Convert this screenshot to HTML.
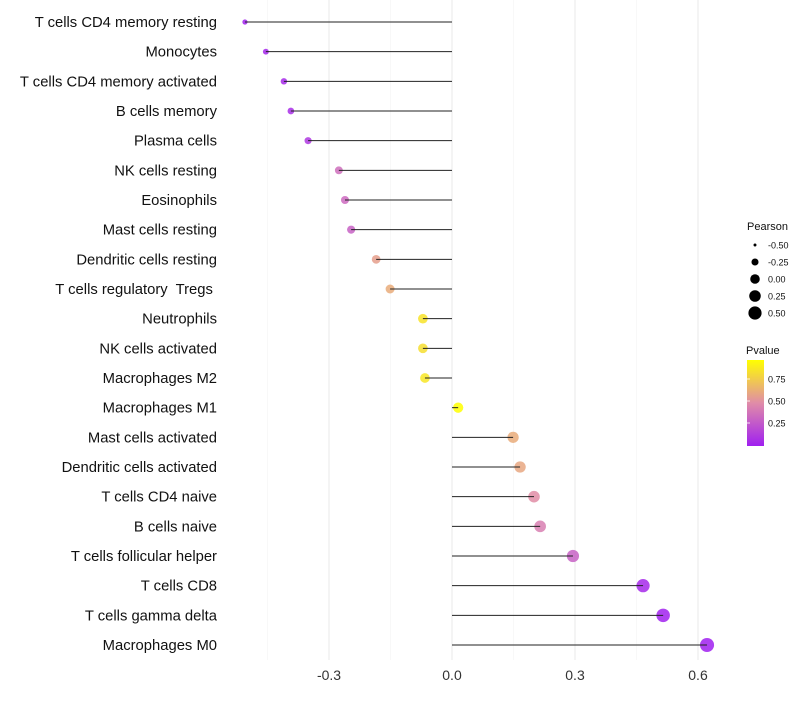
<!DOCTYPE html>
<html><head><meta charset="utf-8"><style>
body{margin:0;background:#fff;font-family:"Liberation Sans",sans-serif;}
</style></head><body>
<svg id="c" width="800" height="700" xmlns="http://www.w3.org/2000/svg">
<defs><linearGradient id="pg" x1="0" y1="1" x2="0" y2="0">
<stop offset="0" stop-color="#A020F0"/><stop offset="0.5" stop-color="#E08CA8"/><stop offset="1" stop-color="#FFFF00"/></linearGradient></defs>
</svg>
<script>
const categories=["T cells CD4 memory resting","Monocytes","T cells CD4 memory activated","B cells memory","Plasma cells","NK cells resting","Eosinophils","Mast cells resting","Dendritic cells resting","T cells regulatory  Tregs ","Neutrophils","NK cells activated","Macrophages M2","Macrophages M1","Mast cells activated","Dendritic cells activated","T cells CD4 naive","B cells naive","T cells follicular helper","T cells CD8","T cells gamma delta","Macrophages M0"];
const pearson=[-0.505,-0.454,-0.41,-0.393,-0.351,-0.276,-0.261,-0.246,-0.185,-0.151,-0.071,-0.071,-0.066,0.015,0.149,0.166,0.2,0.215,0.295,0.466,0.515,0.622];
const pvalue=[0.03,0.05,0.06,0.08,0.12,0.35,0.33,0.3,0.55,0.6,0.82,0.8,0.83,0.95,0.6,0.58,0.48,0.42,0.3,0.06,0.03,0.02];
const xTicks=[-0.3,0,0.3,0.6];
const xMinor=[-0.45,-0.15,0.15,0.45];
const ns="http://www.w3.org/2000/svg";
const svg=document.getElementById('c');
const X=v=>452+v*410;
const Y=i=>22+i*(623/21);
const R=v=>Math.sqrt(Math.max(3.5,26+38*v));
function mk(t,a){const e=document.createElementNS(ns,t);for(const k in a)e.setAttribute(k,a[k]);svg.appendChild(e);return e;}
function lerp(a,b,t){return a.map((x,i)=>Math.round(x+(b[i]-x)*t));}
function col(p){const t=Math.min(1,Math.max(0,(p-0.02)/0.91));const c0=[160,32,240],c1=[224,140,168],c2=[255,255,0];const c=t<0.5?lerp(c0,c1,t*2):lerp(c1,c2,(t-0.5)*2);return `rgb(${c})`;}
xMinor.forEach(v=>{const l=mk('line',{x1:X(v),x2:X(v),y1:0,y2:660,stroke:'#f4f4f4','stroke-width':0.6});

});
xTicks.forEach(v=>{const l=mk('line',{x1:X(v),x2:X(v),y1:0,y2:660,stroke:'#ececec','stroke-width':1.1});


const t=mk('text',{x:X(v),y:680,'text-anchor':'middle','font-size':14,fill:'#333'});t.textContent=v===0?'0.0':v.toFixed(1);

});
categories.forEach((c,i)=>{const y=Y(i);
const t=mk('text',{x:217,y:y+5,'text-anchor':'end','font-size':14.8,fill:'#111','xml:space':'preserve',style:'white-space:pre'});t.textContent=c;


const p=mk('circle',{cx:X(pearson[i]),cy:y,r:R(pearson[i]),fill:col(pvalue[i]),'fill-opacity':0.85});


const l=mk('line',{x1:X(0),x2:X(pearson[i]),y1:y,y2:y,stroke:'#222','stroke-width':1});

});
const g1=mk('text',{x:747,y:230,'font-size':11,fill:'#111'});g1.textContent='Pearson';


[-0.5,-0.25,0,0.25,0.5].forEach((v,i)=>{const y=245+i*17;
const c=mk('circle',{cx:755,cy:y,r:Math.sqrt(Math.max(2.2,22.9+41.4*v)),fill:'#000'});


const t=mk('text',{x:768,y:y+3.5,'font-size':9,fill:'#111'});t.textContent=v.toFixed(2);

});
const g2=mk('text',{x:746,y:354,'font-size':11,fill:'#111'});g2.textContent='Pvalue';


const bar=mk('rect',{x:747,y:360,width:17,height:86,fill:'url(#pg)'});


[0.75,0.5,0.25].forEach((v,i)=>{const y=379+i*22;
const t=mk('text',{x:768,y:y+3.5,'font-size':9,fill:'#111'});t.textContent=v.toFixed(2);


const k=mk('line',{x1:747,x2:750,y1:y,y2:y,stroke:'#fff','stroke-width':0.8});

});
</script>
</body></html>
